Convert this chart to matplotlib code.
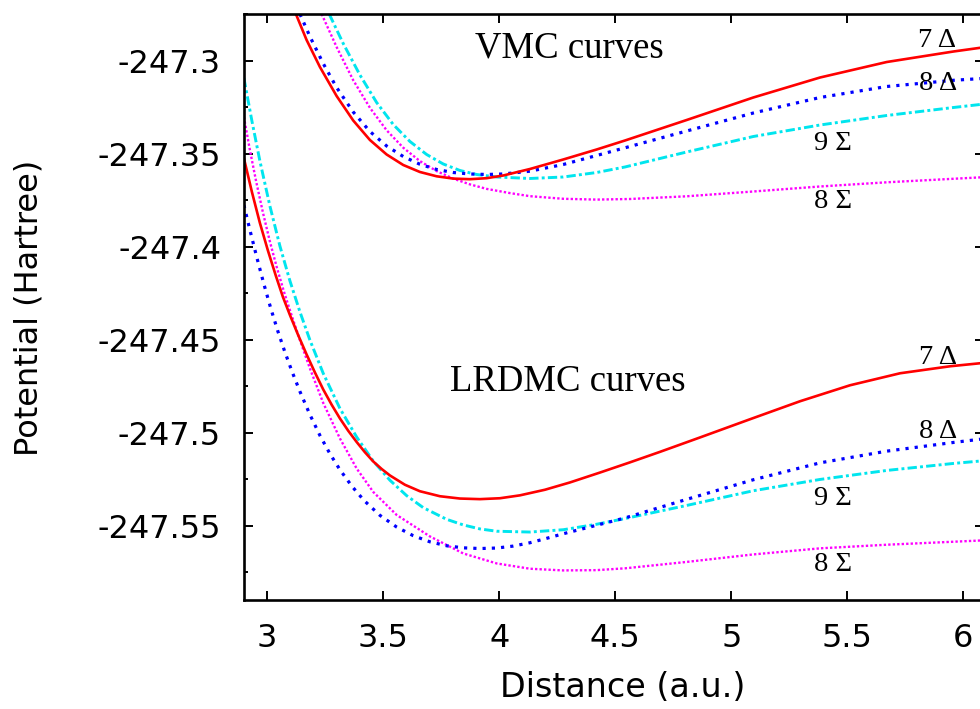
import matplotlib
matplotlib.use("Agg")
import matplotlib.pyplot as plt
from matplotlib.ticker import MultipleLocator

# ---------------- data ----------------
# VMC curves
vmc_7d_x = [3.1237, 3.1698, 3.2272, 3.2991, 3.3707, 3.4427, 3.5147, 3.5862, 3.6582, 3.7302, 3.8017,
            3.8737, 3.9457, 4.0172, 4.1323, 4.2759, 4.4198, 4.5418, 4.8078, 5.0948, 5.3823, 5.6698,
            5.9569, 6.0720]
vmc_7d_y = [-247.27491, -247.28888, -247.30338, -247.31897, -247.33213, -247.34261, -247.35040,
            -247.35604, -247.35980, -247.36211, -247.36335, -247.36367, -247.36313, -247.36168,
            -247.35819, -247.35308, -247.34771, -247.34288, -247.33186, -247.31977, -247.30903,
            -247.30070, -247.29506, -247.29307]

vmc_8d_x = [3.1409, 3.1841, 3.2414, 3.2991, 3.3707, 3.4427, 3.5147, 3.5862, 3.6582, 3.7302, 3.8017,
            3.8737, 3.9457, 4.0172, 4.1323, 4.2759, 4.4198, 4.5418, 4.8078, 5.0948, 5.3823, 5.6698,
            5.9569, 6.0720]
vmc_8d_y = [-247.27491, -247.28700, -247.30150, -247.31440, -247.32756, -247.33804, -247.34583,
            -247.35147, -247.35566, -247.35846, -247.36007, -247.36087, -247.36114, -247.36087,
            -247.35937, -247.35577, -247.35094, -247.34680, -247.33777, -247.32810, -247.31977,
            -247.31386, -247.31053, -247.30962]

vmc_8s_x = [3.2345, 3.2991, 3.3707, 3.4427, 3.5147, 3.5862, 3.6582, 3.7302, 3.8017, 3.8737, 3.9457,
            4.0461, 4.1323, 4.2759, 4.4198, 4.5634, 4.8078, 5.0948, 5.3823, 5.6698, 5.9569, 6.0720]
vmc_8s_y = [-247.27491, -247.29264, -247.31048, -247.32531, -247.33740, -247.34674, -247.35394,
            -247.35932, -247.36335, -247.36646, -247.36888, -247.37114, -247.37280, -247.37420,
            -247.37463, -247.37431, -247.37286, -247.37028, -247.36759, -247.36534, -247.36345,
            -247.36270]

vmc_9s_x = [3.2672, 3.3276, 3.3996, 3.4716, 3.5431, 3.6151, 3.6871, 3.7586, 3.8306, 3.9026, 3.9888,
            4.1323, 4.2759, 4.4198, 4.5418, 4.8078, 5.0948, 5.3823, 5.6698, 5.9569, 6.0720]
vmc_9s_y = [-247.27491, -247.29076, -247.30768, -247.32246, -247.33428, -247.34341, -247.35040,
            -247.35550, -247.35899, -247.36114, -247.36249, -247.36329, -247.36249, -247.36007,
            -247.35711, -247.34905, -247.34073, -247.33455, -247.32944, -247.32515, -247.32353]

# LRDMC curves
lr_7d_x = [2.8996, 2.9341, 2.9685, 3.0030, 3.0375, 3.0677, 3.0978, 3.1323, 3.1698, 3.2056, 3.2414,
           3.2776, 3.3134, 3.3491, 3.3853, 3.4211, 3.4569, 3.4931, 3.5289, 3.5935, 3.6582, 3.7444,
           3.8306, 3.9168, 4.0030, 4.0892, 4.1970, 4.3047, 4.4341, 4.5634, 4.6927, 4.8651, 5.0806,
           5.2961, 5.5116, 5.7272, 5.9427, 6.0720]
lr_7d_y = [-247.35244, -247.37055, -247.38720, -247.40198, -247.41568, -247.42696, -247.43663,
           -247.44711, -247.45786, -247.46753, -247.47666, -247.48483, -247.49224, -247.49885,
           -247.50487, -247.51040, -247.51535, -247.51938, -247.52287, -247.52787, -247.53136,
           -247.53404, -247.53528, -247.53560, -247.53512, -247.53356, -247.53055, -247.52663,
           -247.52131, -247.51583, -247.51019, -247.50245, -247.49267, -247.48300, -247.47441,
           -247.46796, -247.46420, -247.46258]

lr_8s_x = [2.8996, 2.9254, 2.9513, 2.9815, 3.0116, 3.0418, 3.0720, 3.0978, 3.1409, 3.1841, 3.2414,
           3.3134, 3.3853, 3.4569, 3.5578, 3.7013, 3.8448, 3.9888, 4.1323, 4.2759, 4.4198, 4.5418,
           4.8078, 5.0948, 5.3823, 5.6698, 5.9569, 6.0720]
lr_8s_y = [-247.33025, -247.34798, -247.36426, -247.38156, -247.39720, -247.41127, -247.42406,
           -247.43405, -247.45017, -247.46538, -247.48391, -247.50299, -247.51911, -247.53173,
           -247.54409, -247.55564, -247.56478, -247.57015, -247.57300, -247.57391, -247.57375,
           -247.57278, -247.56934, -247.56531, -247.56204, -247.56010, -247.55849, -247.55784]

lr_9s_x = [2.8996, 2.9341, 2.9685, 3.0116, 3.0547, 3.0978, 3.1409, 3.1841, 3.2414, 3.3134, 3.3853,
           3.4569, 3.5289, 3.6009, 3.6724, 3.7733, 3.8448, 3.9168, 3.9888, 4.1323, 4.2759, 4.4198,
           4.5418, 4.8078, 5.0948, 5.3823, 5.6698, 5.9569, 6.0720]
lr_9s_y = [-247.30930, -247.33240, -247.35389, -247.37807, -247.39956, -247.41826, -247.43491,
           -247.45012, -247.46801, -247.48687, -247.50218, -247.51513, -247.52545, -247.53372,
           -247.54017, -247.54645, -247.54946, -247.55161, -247.55285, -247.55328, -247.55204,
           -247.54909, -247.54603, -247.53899, -247.53109, -247.52502, -247.52018, -247.51642,
           -247.51513]

lr_8d_x = [2.8996, 2.9254, 2.9556, 2.9858, 3.0159, 3.0461, 3.0763, 3.1065, 3.1409, 3.1841, 3.2272,
           3.2703, 3.3134, 3.3651, 3.4168, 3.4858, 3.5578, 3.6280, 3.7013, 3.7746, 3.8448, 3.9168,
           3.9888, 4.0591, 4.1323, 4.2013, 4.2759, 4.4198, 4.5418, 4.8078, 5.0948, 5.3823, 5.6698,
           5.9569, 6.0720]
lr_8d_y = [-247.37753, -247.39096, -247.40590, -247.42008, -247.43330, -247.44545, -247.45657,
           -247.46688, -247.47774, -247.49020, -247.50138, -247.51121, -247.51980, -247.52867,
           -247.53625, -247.54431, -247.55059, -247.55516, -247.55854, -247.56069, -247.56177,
           -247.56214, -247.56188, -247.56085, -247.55903, -247.55677, -247.55419, -247.54963,
           -247.54571, -247.53571, -247.52518, -247.51610, -247.50981, -247.50514, -247.50342]

curve_labels = ["7 \u0394", "8 \u0394", "9 \u03a3", "8 \u03a3"]
group_titles = ["VMC curves", "LRDMC curves"]

xticks = [3, 3.5, 4, 4.5, 5, 5.5, 6]
xtick_labels = ["3", "3.5", "4", "4.5", "5", "5.5", "6"]
yticks = [-247.55, -247.5, -247.45, -247.4, -247.35, -247.3]
ytick_labels = ["-247.55", "-247.5", "-247.45", "-247.4", "-247.35", "-247.3"]

# ---------------- figure ----------------
W, H = 980, 709
fig = plt.figure(figsize=(W / 100, H / 100), dpi=100)
fig.patch.set_facecolor("white")
ax = fig.add_axes([244 / W, (H - 600) / H, 740 / W, 586 / H])

red = dict(color="#ff0000", lw=1.9, ls="-")
blue = dict(color="#0000ff", lw=2.3, ls=(0, (1, 1.9)))
cyan = dict(color="#00e5ee", lw=2.1, ls=(0, (3.2, 1.1, 1, 1.1)))
mag = dict(color="#ff00ff", lw=1.7, ls=(0, (1, 0.9)))

for xs, ys, st in [(vmc_8s_x, vmc_8s_y, mag), (vmc_9s_x, vmc_9s_y, cyan),
                   (vmc_8d_x, vmc_8d_y, blue), (vmc_7d_x, vmc_7d_y, red),
                   (lr_8s_x, lr_8s_y, mag), (lr_9s_x, lr_9s_y, cyan),
                   (lr_8d_x, lr_8d_y, blue), (lr_7d_x, lr_7d_y, red)]:
    ax.plot(xs, ys, solid_joinstyle="round", dash_joinstyle="round", **st)

ax.set_xlim(2.9, 6.089)
ax.set_ylim(-247.5898, -247.2749)

ax.set_xticks(xticks)
ax.set_xticklabels(xtick_labels)
ax.set_yticks(yticks)
ax.set_yticklabels(ytick_labels)
ax.yaxis.set_minor_locator(MultipleLocator(0.025))

ax.tick_params(which="both", direction="in", top=True, right=True, width=1.4, color="black")
ax.tick_params(which="major", length=6.8)
ax.tick_params(which="minor", length=3.2)
ax.tick_params(axis="y", which="major", labelsize=23, pad=16.5)
ax.tick_params(axis="x", which="major", labelsize=23, pad=16.5)
for sp in ax.spines.values():
    sp.set_linewidth(1.9)

fig.text(623 / W, (H - 697) / H, "Distance (a.u.)", ha="center", va="baseline", fontsize=24)
fig.text(29 / W, (H - 308) / H, "Potential (Hartree)", ha="center", va="center",
         rotation=90, fontsize=23)

serif = ["Liberation Serif", "DejaVu Serif"]
ax.text(3.8953, -247.2982, group_titles[0], family=serif, fontsize=26.5, ha="left", va="baseline")
ax.text(3.7875, -247.4773, group_titles[1], family=serif, fontsize=26.5, ha="left", va="baseline")

lab_kw = dict(family=serif, fontsize=20.5, ha="left", va="baseline")
ax.text(5.8047, -247.2925, curve_labels[0], **lab_kw)
ax.text(5.8091, -247.3157, curve_labels[1], **lab_kw)
ax.text(5.3565, -247.3480, curve_labels[2], **lab_kw)
ax.text(5.3565, -247.3791, curve_labels[3], **lab_kw)
ax.text(5.8091, -247.4631, curve_labels[0], **lab_kw)
ax.text(5.8091, -247.5029, curve_labels[1], **lab_kw)
ax.text(5.3565, -247.5387, curve_labels[2], **lab_kw)
ax.text(5.3565, -247.5740, curve_labels[3], **lab_kw)

fig.savefig("out.png", dpi=100)
